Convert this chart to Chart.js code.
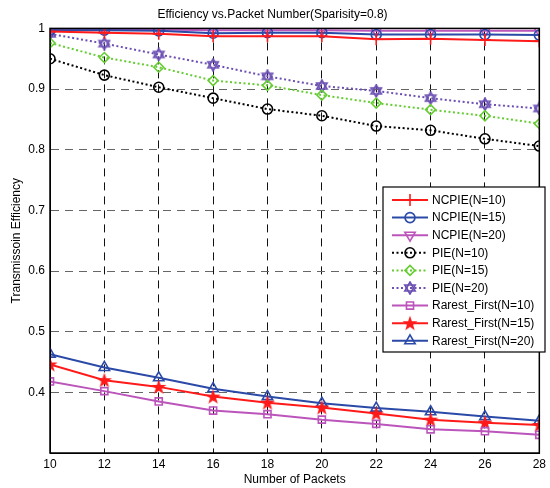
<!DOCTYPE html>
<html>
<head>
<meta charset="utf-8">
<script src="https://cdn.jsdelivr.net/npm/chart.js@4.4.0/dist/chart.umd.min.js"></script>
<style>
  html, body { margin: 0; padding: 0; background: #fff; }
  #wrap { width: 550px; height: 488px; }
</style>
</head>
<body>
<div id="wrap"><canvas id="chart" width="550" height="488"></canvas></div>
<script>
// Number of packets on the x axis
const packets = [10, 12, 14, 16, 18, 20, 22, 24, 26, 28];
const yTicks = [0.3, 0.4, 0.5, 0.6, 0.7, 0.8, 0.9, 1.0];

// Transmission efficiency
const ncpie10 = [0.995, 0.993, 0.991, 0.987, 0.987, 0.987, 0.982, 0.983, 0.981, 0.979];
const ncpie15 = [0.997, 0.997, 0.996, 0.992, 0.993, 0.993, 0.990, 0.990, 0.990, 0.989];
const ncpie20 = [0.998, 0.998, 0.998, 0.997, 0.997, 0.997, 0.996, 0.996, 0.996, 0.996];
const pie10 = [0.950, 0.923, 0.903, 0.885, 0.867, 0.856, 0.839, 0.832, 0.818, 0.806];
const pie15 = [0.976, 0.952, 0.936, 0.914, 0.906, 0.890, 0.877, 0.866, 0.856, 0.843];
const pie20 = [0.991, 0.975, 0.957, 0.940, 0.921, 0.905, 0.897, 0.885, 0.875, 0.868];
const rarest10 = [0.418, 0.402, 0.385, 0.370, 0.364, 0.355, 0.348, 0.339, 0.336, 0.330];
const rarest15 = [0.446, 0.420, 0.409, 0.393, 0.383, 0.375, 0.365, 0.355, 0.350, 0.346];
const rarest20 = [0.463, 0.441, 0.424, 0.406, 0.393, 0.382, 0.374, 0.368, 0.360, 0.353];

const FONT = "'Liberation Sans', Arial, sans-serif";

// hexagram marker (star of David) for PIE(N=20)
function hexagram(color) {
  const c = document.createElement("canvas");
  c.width = 14; c.height = 14;
  const g = c.getContext("2d");
  g.strokeStyle = color; g.lineWidth = 1.6;
  [0, Math.PI].forEach(rot => {
    g.beginPath();
    for (let i = 0; i < 3; i++) {
      const a = rot - Math.PI / 2 + i * 2 * Math.PI / 3;
      const px = 7 + 6 * Math.cos(a), py = 7 + 6 * Math.sin(a);
      i ? g.lineTo(px, py) : g.moveTo(px, py);
    }
    g.closePath(); g.stroke();
  });
  return c;
}

// filled five point star for Rarest_First(N=15)
function star5(color) {
  const c = document.createElement("canvas");
  c.width = 16; c.height = 16;
  const g = c.getContext("2d");
  g.fillStyle = color;
  g.beginPath();
  for (let i = 0; i < 10; i++) {
    const r = i % 2 ? 3.2 : 8;
    const a = -Math.PI / 2 + i * Math.PI / 5;
    const px = 8 + r * Math.cos(a), py = 8.5 + r * Math.sin(a);
    i ? g.lineTo(px, py) : g.moveTo(px, py);
  }
  g.closePath(); g.fill();
  return c;
}

const RED = "#ff1a1a", BLUE = "#2b4aa8", MAG = "#bb55bb";
const GREEN = "#66cc33", PURPLE = "#6b4fb3", BLACK = "#000000";

function ds(label, data, color, style, opts) {
  return Object.assign({
    label: label,
    data: data,
    borderColor: color,
    pointBorderColor: color,
    pointBackgroundColor: "rgba(0,0,0,0)",
    borderWidth: 2,
    pointStyle: style,
    pointRadius: 5,
    pointBorderWidth: 1.6,
    pointHoverRadius: 5,
    tension: 0,
    fill: false
  }, opts || {});
}

const dotted = { borderDash: [2, 2.5] };

const datasets = [
  ds("NCPIE(N=10)", ncpie10, RED, "cross", { pointRadius: 6 }),
  ds("NCPIE(N=15)", ncpie15, BLUE, "circle"),
  ds("NCPIE(N=20)", ncpie20, MAG, "triangle", { pointRotation: 180, pointRadius: 6 }),
  ds("PIE(N=10)", pie10, BLACK, "circle", dotted),
  ds("PIE(N=15)", pie15, GREEN, "rectRot", dotted),
  ds("PIE(N=20)", pie20, PURPLE, hexagram(PURPLE), dotted),
  ds("Rarest_First(N=10)", rarest10, MAG, "rect"),
  ds("Rarest_First(N=15)", rarest15, RED, star5(RED)),
  ds("Rarest_First(N=20)", rarest20, BLUE, "triangle", { pointRadius: 6 })
];

// black frame round the plot area
const framePlugin = {
  id: "frame",
  afterDatasetsDraw(chart) {
    const a = chart.chartArea, ctx = chart.ctx;
    ctx.save();
    ctx.strokeStyle = "#000";
    ctx.lineWidth = 1.5;
    ctx.strokeRect(a.left, a.top, a.right - a.left, a.bottom - a.top);
    ctx.restore();
  }
};

// MATLAB style legend box inside the plot
const legendPlugin = {
  id: "boxLegend",
  afterDraw(chart) {
    const ctx = chart.ctx;
    const bx = 383, by = 187, bw = 162, bh = 165;
    const helpers = Chart.helpers;
    ctx.save();
    ctx.fillStyle = "#fff";
    ctx.fillRect(bx, by, bw, bh);
    ctx.strokeStyle = "#000";
    ctx.lineWidth = 1.2;
    ctx.strokeRect(bx, by, bw, bh);
    chart.data.datasets.forEach((d, i) => {
      const y = 200 + i * 17.6;
      ctx.save();
      ctx.strokeStyle = d.borderColor;
      ctx.lineWidth = d.borderWidth;
      ctx.setLineDash(d.borderDash || []);
      ctx.beginPath();
      ctx.moveTo(392, y);
      ctx.lineTo(428, y);
      ctx.stroke();
      ctx.setLineDash([]);
      ctx.fillStyle = "rgba(0,0,0,0)";
      ctx.lineWidth = d.pointBorderWidth;
      helpers.drawPoint(ctx, {
        pointStyle: d.pointStyle,
        radius: d.pointRadius,
        rotation: d.pointRotation || 0,
        borderWidth: d.pointBorderWidth
      }, 410, y);
      ctx.restore();
      ctx.fillStyle = "#000";
      ctx.font = "12px " + FONT;
      ctx.textBaseline = "middle";
      ctx.fillText(d.label, 432, y + 0.5);
    });
    ctx.restore();
  }
};

new Chart(document.getElementById("chart"), {
  type: "line",
  data: { labels: packets, datasets: datasets },
  options: {
    responsive: false,
    animation: false,
    layout: { padding: { left: 0, right: 5, top: 0, bottom: 0 } },
    plugins: {
      legend: { display: false },
      tooltip: { enabled: false },
      title: {
        display: true,
        text: "Efficiency vs.Packet Number(Sparisity=0.8)",
        color: "#000",
        font: { family: FONT, size: 12, weight: "normal" },
        padding: { top: 7, bottom: 7 }
      }
    },
    scales: {
      x: {
        type: "linear",
        min: 10,
        max: 28,
        afterBuildTicks(scale) { scale.ticks = packets.map(v => ({ value: v })); },
        afterFit(scale) { scale.height = 35; },
        grid: { color: "#111", lineWidth: 1, drawTicks: false },
        border: { display: true, color: "#000", dash: [8, 6] },
        ticks: { color: "#000", padding: 4, font: { family: FONT, size: 12 } },
        title: {
          display: true, text: "Number of Packets", color: "#000",
          font: { family: FONT, size: 12 }, padding: { top: 0, bottom: 1 }
        }
      },
      y: {
        min: 0.3,
        max: 1.0,
        afterBuildTicks(scale) { scale.ticks = yTicks.map(v => ({ value: v })); },
        afterFit(scale) { scale.width = 50; },
        grid: { color: "#666", lineWidth: 1, drawTicks: false },
        border: { display: true, color: "#000", dash: [8, 6] },
        ticks: {
          color: "#000", padding: 5, font: { family: FONT, size: 12 },
          callback: v => (v < 0.35 ? "" : (v === 1 ? "1" : v.toFixed(1)))
        },
        title: {
          display: true, text: "Transmissoin Efficiency", color: "#000",
          font: { family: FONT, size: 12 }, padding: { top: 9, bottom: 0 }
        }
      }
    }
  },
  plugins: [framePlugin, legendPlugin]
});
</script>
</body>
</html>
